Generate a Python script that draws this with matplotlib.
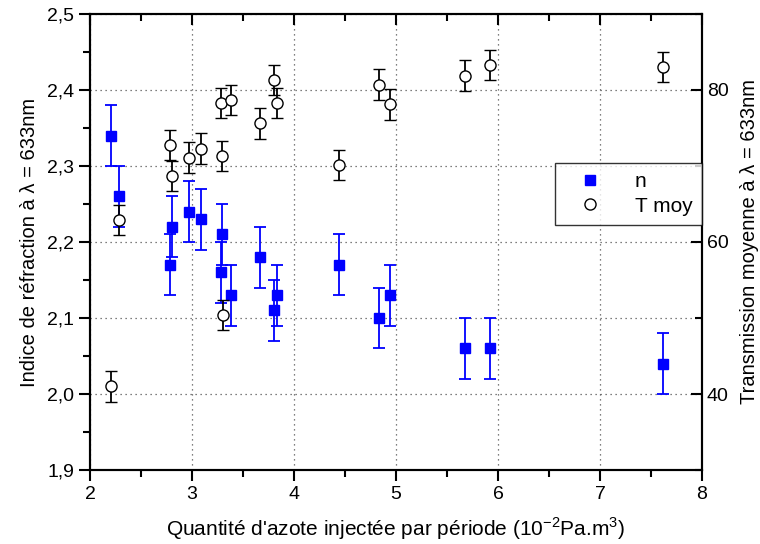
import matplotlib
matplotlib.use("Agg")
import matplotlib.pyplot as plt
from matplotlib.ticker import MultipleLocator, FuncFormatter
from matplotlib.lines import Line2D

plt.rcParams['font.family'] = ['Liberation Sans', 'DejaVu Sans']

# Refractive index n
x_n = [2.21, 2.28, 2.78, 2.80, 2.97, 3.09, 3.29, 3.28, 3.38, 3.67, 3.80, 3.83, 4.44, 4.83, 4.94, 5.68, 5.92, 7.62]
n_vals = [2.34, 2.26, 2.17, 2.22, 2.24, 2.23, 2.21, 2.16, 2.13, 2.18, 2.11, 2.13, 2.17, 2.10, 2.13, 2.06, 2.06, 2.04]
n_err = 0.04

# Mean transmission
x_t = [2.21, 2.28, 2.78, 2.80, 2.97, 3.09, 3.28, 3.29, 3.30, 3.38, 3.67, 3.80, 3.83, 4.44, 4.83, 4.94, 5.68, 5.92, 7.62]
t_vals = [41.0, 62.9, 72.8, 68.7, 71.1, 72.3, 78.3, 71.3, 50.4, 78.7, 75.6, 81.3, 78.3, 70.1, 80.7, 78.1, 81.9, 83.3, 83.0]
t_err = 2.0

fig = plt.figure(figsize=(7.6, 5.44), dpi=100)
ax = fig.add_axes([0.1184, 0.136, 0.8053, 0.8383])
ax2 = ax.twinx()

ax.errorbar(x_n, n_vals, yerr=n_err, fmt='s', color='#0000ff', mec='#0000ff', mfc='#0000ff',
            ms=7, capsize=4, elinewidth=1.3, capthick=1.3, zorder=3)
ax2.errorbar(x_t, t_vals, yerr=t_err, fmt='o', color='black', mec='black', mfc='white',
             ms=8, mew=1.0, capsize=4, elinewidth=1.3, capthick=1.3, zorder=3)

ax.set_xlim(2, 8)
ax.set_ylim(1.9, 2.5)
ax2.set_ylim(30, 90)

ax.xaxis.set_major_locator(MultipleLocator(1))
ax.xaxis.set_minor_locator(MultipleLocator(0.5))
ax.yaxis.set_major_locator(MultipleLocator(0.1))
ax.yaxis.set_minor_locator(MultipleLocator(0.05))
ax2.yaxis.set_major_locator(MultipleLocator(20))
ax2.yaxis.set_minor_locator(MultipleLocator(10))
ax.yaxis.set_major_formatter(FuncFormatter(lambda v, p: f"{v:.1f}".replace('.', ',')))
ax2.yaxis.set_major_formatter(FuncFormatter(lambda v, p: f"{v:.0f}" if 35 < v < 85 else ""))

ax.grid(True, which='major', linestyle=(0, (1, 3)), color='#555555', linewidth=0.9)

ax.tick_params(axis='x', which='both', direction='out', top=True, labeltop=False)
ax.tick_params(axis='y', which='both', direction='out', left=True, right=False)
ax.tick_params(which='major', length=8, width=1.5, labelsize=14)
ax.tick_params(which='minor', length=5, width=1.5)
ax2.tick_params(axis='y', which='both', direction='in')
ax2.tick_params(which='major', length=8, width=1.5, labelsize=14)
ax2.tick_params(which='minor', length=5, width=1.5)
# top ticks inward
for t in ax.xaxis.get_major_ticks() + ax.xaxis.get_minor_ticks():
    t.tick2line.set_marker(3)

for a in (ax, ax2):
    for s in a.spines.values():
        s.set_linewidth(1.5)

ax.set_xlabel("Quantité d'azote injectée par période (10$^{\\mathregular{-2}}$Pa.m$^{\\mathregular{3}}$)",
              fontsize=15, labelpad=9)
ax.set_ylabel("Indice de réfraction à λ = 633nm", fontsize=14.5, labelpad=6)
ax2.set_ylabel("Transmission moyenne à λ = 633nm", fontsize=14.5, labelpad=8)

handles = [Line2D([], [], ls='none', marker='s', color='#0000ff', ms=7),
           Line2D([], [], ls='none', marker='o', mfc='white', mec='black', ms=8)]
leg = ax2.legend(handles, ['n', 'T moy'], loc='upper right', bbox_to_anchor=(1.0, 0.673),
                 borderaxespad=0.0, fontsize=15, frameon=True, fancybox=False, edgecolor='black',
                 borderpad=0.45, handlelength=2.5, handletextpad=0.9, labelspacing=0.25)
leg.get_frame().set_linewidth(1.0)

fig.savefig("out.png", dpi=100)
